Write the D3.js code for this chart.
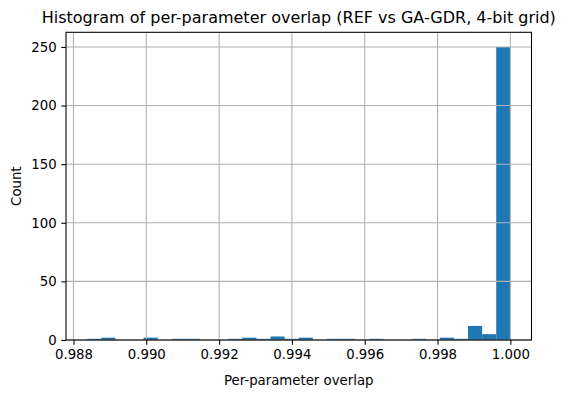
<!DOCTYPE html>
<html>
<head>
<meta charset="utf-8">
<script src="https://cdn.jsdelivr.net/npm/d3@7"></script>
<style>
  body { margin: 0; background: #fff; }
  svg { font-family: "DejaVu Sans", sans-serif; }
</style>
</head>
<body>
<svg id="chart" width="574" height="393"></svg>
<script>
// histogram data: 30 equal bins between binMin and binMax
const binMin = 0.988376;
const binMax = 1.0;
const binCounts = [1, 2, 0, 0, 2, 0, 1, 1, 0, 0,
                   1, 2, 1, 3, 1, 2, 0, 1, 1, 0,
                   1, 0, 0, 1, 0, 2, 1, 12, 5, 250];
const xTicks = [0.988, 0.990, 0.992, 0.994, 0.996, 0.998, 1.000];
const yTicks = [0, 50, 100, 150, 200, 250];

(function () {
  const svg = d3.select('#chart');
  let pLeft = 66, pRight = 531.5, pTop = 32.3, pBottom = 340;

  // matplotlib-style 5% margins
  let span = binMax - binMin;
  const x = d3.scaleLinear()
    .domain([binMin - span * 0.05, binMax + span * 0.05])
    .range([pLeft, pRight]);
  const maxCount = d3.max(binCounts);
  const y = d3.scaleLinear()
    .domain([0, maxCount * 1.05])
    .range([pBottom, pTop]);

  let binW = span / binCounts.length;
  const bins = binCounts.map((c, i) => ({x0: binMin + i * binW, x1: binMin + (i + 1) * binW, count: c}));

  // bars
  svg.append('g')
    .selectAll('rect')
    .data(bins.filter(d => d.count > 0))
    .join('rect')
      .attr('x', d => x(d.x0))
      .attr('width', d => x(d.x1) - x(d.x0))
      .attr('y', d => y(d.count))
      .attr('height', d => y(0) - y(d.count))
      .attr('fill', '#1f77b4');

  // grid above bars (like matplotlib default)
  const grid = svg.append('g').attr('stroke', '#b0b0b0').attr('stroke-width', 1.07);
  grid.selectAll('.gx').data(xTicks).join('line')
    .attr('class', 'gx')
    .attr('x1', d => x(d)).attr('x2', d => x(d))
    .attr('y1', pTop).attr('y2', pBottom);
  grid.selectAll('.gy').data(yTicks).join('line')
    .attr('class', 'gy')
    .attr('y1', d => y(d)).attr('y2', d => y(d))
    .attr('x1', pLeft).attr('x2', pRight);

  // axes
  const xAxis = d3.axisBottom(x).tickValues(xTicks).tickFormat(d3.format('.3f')).tickSize(4.7).tickPadding(4.7);
  const yAxis = d3.axisLeft(y).tickValues(yTicks).tickSize(4.7).tickPadding(4.7);

  svg.append('g')
    .attr('transform', 'translate(0,' + pBottom + ')')
    .style('font-size', '13.3px')
    .call(xAxis)
    .call(g => g.select('.domain').remove());

  svg.append('g')
    .attr('transform', 'translate(' + pLeft + ',0)')
    .style('font-size', '13.3px')
    .call(yAxis)
    .call(g => g.select('.domain').remove());

  svg.selectAll('.tick line').attr('stroke', '#000').attr('stroke-width', 1.07);
  svg.selectAll('.tick text').attr('fill', '#000').attr('font-family', 'DejaVu Sans');

  // frame
  svg.append('rect')
    .attr('x', pLeft).attr('y', pTop)
    .attr('width', pRight - pLeft).attr('height', pBottom - pTop)
    .attr('fill', 'none').attr('stroke', '#000').attr('stroke-width', 1.07);

  // labels
  svg.append('text')
    .attr('x', (pLeft + pRight) / 2).attr('y', 23)
    .attr('text-anchor', 'middle')
    .style('font-size', '16px')
    .text('Histogram of per-parameter overlap (REF vs GA-GDR, 4-bit grid)');

  svg.append('text')
    .attr('x', (pLeft + pRight) / 2).attr('y', 385)
    .attr('text-anchor', 'middle')
    .style('font-size', '13.3px')
    .text('Per-parameter overlap');

  svg.append('text')
    .attr('transform', 'translate(21,' + ((pTop + pBottom) / 2) + ') rotate(-90)')
    .attr('text-anchor', 'middle')
    .style('font-size', '13.3px')
    .text('Count');
})();
</script>
</body>
</html>
